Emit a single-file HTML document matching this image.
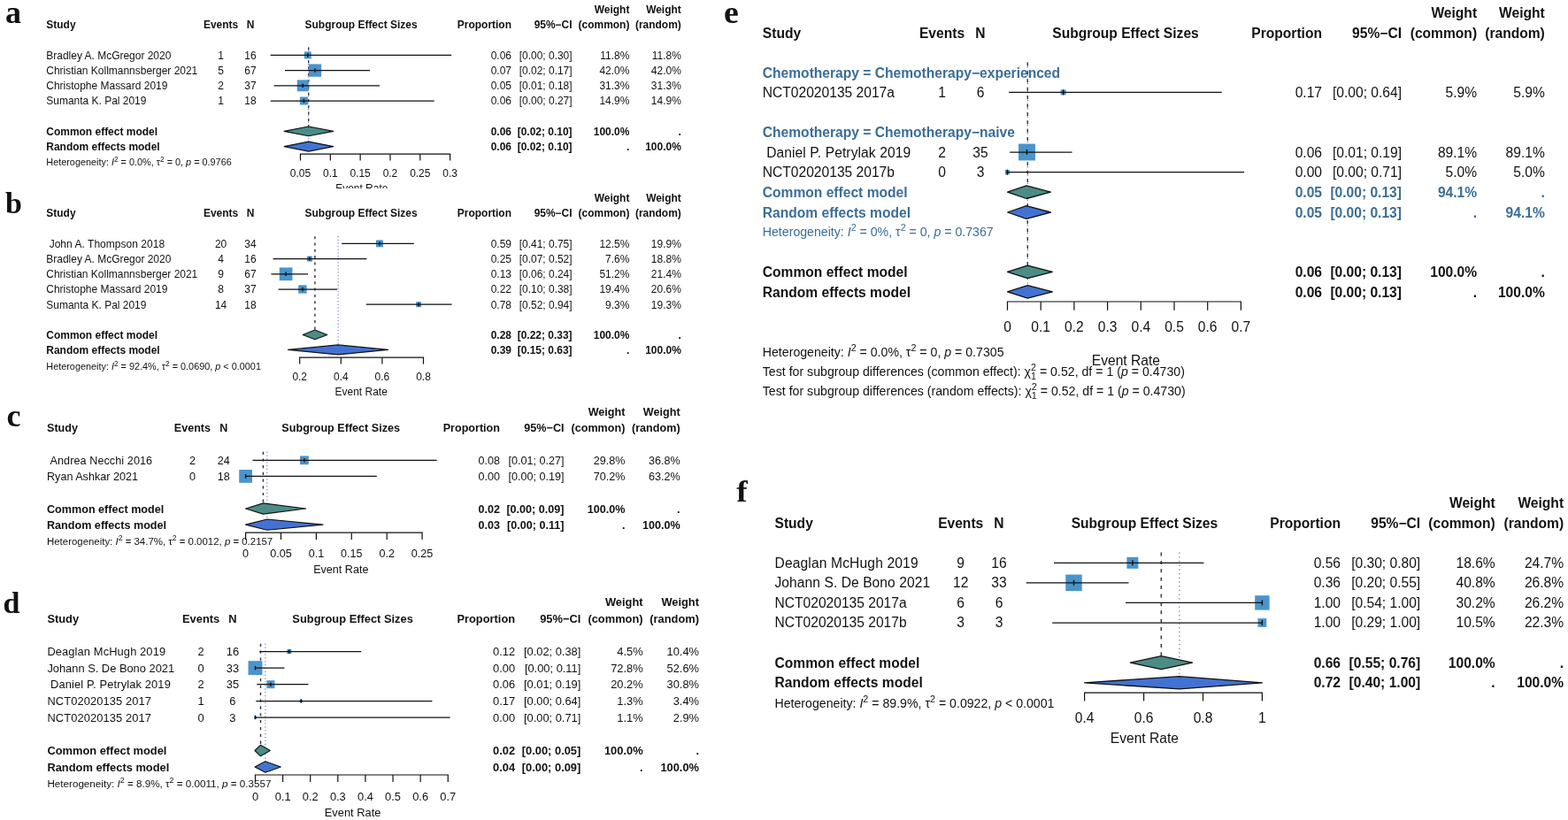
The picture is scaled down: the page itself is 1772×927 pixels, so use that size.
<!DOCTYPE html>
<html><head><meta charset="utf-8"><title>Forest plots</title>
<style>
html,body{margin:0;padding:0;background:#fff;}
svg{display:block;}
</style></head>
<body>
<svg width="1772" height="927" viewBox="0 0 1772 927">
<defs><clipPath id="clipA"><rect x="0" y="0" width="800" height="213"/></clipPath></defs>
<rect x="0" y="0" width="1772" height="927" fill="#fff"/>
<g style="font-family:'Liberation Sans', Arial, Helvetica, sans-serif;fill:#111;">
<g clip-path="url(#clipA)">
<text x="6.00" y="25.80" font-size="36.00" font-weight="bold" style="font-family:'Liberation Serif', 'Times New Roman', serif;">a</text>
<text x="711.40" y="15.00" font-size="11.97" text-anchor="end" font-weight="bold">Weight</text>
<text x="769.80" y="15.00" font-size="11.97" text-anchor="end" font-weight="bold">Weight</text>
<text x="52.30" y="32.40" font-size="11.97" font-weight="bold">Study</text>
<text x="249.60" y="32.40" font-size="11.97" text-anchor="middle" font-weight="bold">Events</text>
<text x="283.00" y="32.40" font-size="11.97" text-anchor="middle" font-weight="bold">N</text>
<text x="408.10" y="32.40" font-size="11.97" text-anchor="middle" font-weight="bold">Subgroup Effect Sizes</text>
<text x="578.00" y="32.40" font-size="11.97" text-anchor="end" font-weight="bold">Proportion</text>
<text x="646.60" y="32.40" font-size="11.97" text-anchor="end" font-weight="bold">95%−CI</text>
<text x="711.40" y="32.40" font-size="11.97" text-anchor="end" font-weight="bold">(common)</text>
<text x="769.80" y="32.40" font-size="11.97" text-anchor="end" font-weight="bold">(random)</text>
<line x1="348.70" y1="53.60" x2="348.70" y2="148.40" stroke="#333" stroke-width="1.4" stroke-dasharray="3 4.3"/>
<line x1="348.70" y1="53.60" x2="348.70" y2="165.60" stroke="#4a4ac4" stroke-width="1.0" stroke-dasharray="1 2.65"/>
<text x="52.30" y="66.60" font-size="11.97">Bradley A. McGregor 2020</text>
<text x="249.60" y="66.60" font-size="11.97" text-anchor="middle">1</text>
<text x="283.00" y="66.60" font-size="11.97" text-anchor="middle">16</text>
<text x="578.00" y="66.60" font-size="11.97" text-anchor="end">0.06</text>
<text x="646.60" y="66.60" font-size="11.97" text-anchor="end">[0.00; 0.30]</text>
<text x="711.40" y="66.60" font-size="11.97" text-anchor="end">11.8%</text>
<text x="769.80" y="66.60" font-size="11.97" text-anchor="end">11.8%</text>
<rect x="343.80" y="58.40" width="8.00" height="8.00" fill="#4a94cc"/>
<line x1="305.70" y1="62.40" x2="510.20" y2="62.40" stroke="#111" stroke-width="1.25"/>
<line x1="347.80" y1="60.15" x2="347.80" y2="64.65" stroke="#111" stroke-width="1.4"/>
<text x="52.30" y="83.80" font-size="11.97">Christian Kollmannsberger 2021</text>
<text x="249.60" y="83.80" font-size="11.97" text-anchor="middle">5</text>
<text x="283.00" y="83.80" font-size="11.97" text-anchor="middle">67</text>
<text x="578.00" y="83.80" font-size="11.97" text-anchor="end">0.07</text>
<text x="646.60" y="83.80" font-size="11.97" text-anchor="end">[0.02; 0.17]</text>
<text x="711.40" y="83.80" font-size="11.97" text-anchor="end">42.0%</text>
<text x="769.80" y="83.80" font-size="11.97" text-anchor="end">42.0%</text>
<rect x="348.85" y="72.45" width="14.30" height="14.30" fill="#4a94cc"/>
<line x1="322.00" y1="79.60" x2="418.00" y2="79.60" stroke="#111" stroke-width="1.25"/>
<line x1="356.00" y1="77.35" x2="356.00" y2="81.85" stroke="#111" stroke-width="1.4"/>
<text x="52.30" y="101.00" font-size="11.97">Christophe Massard 2019</text>
<text x="249.60" y="101.00" font-size="11.97" text-anchor="middle">2</text>
<text x="283.00" y="101.00" font-size="11.97" text-anchor="middle">37</text>
<text x="578.00" y="101.00" font-size="11.97" text-anchor="end">0.05</text>
<text x="646.60" y="101.00" font-size="11.97" text-anchor="end">[0.01; 0.18]</text>
<text x="711.40" y="101.00" font-size="11.97" text-anchor="end">31.3%</text>
<text x="769.80" y="101.00" font-size="11.97" text-anchor="end">31.3%</text>
<rect x="335.75" y="90.35" width="12.90" height="12.90" fill="#4a94cc"/>
<line x1="309.60" y1="96.80" x2="429.00" y2="96.80" stroke="#111" stroke-width="1.25"/>
<line x1="342.20" y1="94.55" x2="342.20" y2="99.05" stroke="#111" stroke-width="1.4"/>
<text x="52.30" y="118.20" font-size="11.97">Sumanta K. Pal 2019</text>
<text x="249.60" y="118.20" font-size="11.97" text-anchor="middle">1</text>
<text x="283.00" y="118.20" font-size="11.97" text-anchor="middle">18</text>
<text x="578.00" y="118.20" font-size="11.97" text-anchor="end">0.06</text>
<text x="646.60" y="118.20" font-size="11.97" text-anchor="end">[0.00; 0.27]</text>
<text x="711.40" y="118.20" font-size="11.97" text-anchor="end">14.9%</text>
<text x="769.80" y="118.20" font-size="11.97" text-anchor="end">14.9%</text>
<rect x="338.90" y="109.50" width="9.00" height="9.00" fill="#4a94cc"/>
<line x1="305.80" y1="114.00" x2="490.70" y2="114.00" stroke="#111" stroke-width="1.25"/>
<line x1="343.40" y1="111.75" x2="343.40" y2="116.25" stroke="#111" stroke-width="1.4"/>
<text x="52.30" y="152.90" font-size="11.97" font-weight="bold">Common effect model</text>
<text x="578.00" y="152.90" font-size="11.97" text-anchor="end" font-weight="bold">0.06</text>
<text x="646.60" y="152.90" font-size="11.97" text-anchor="end" font-weight="bold">[0.02; 0.10]</text>
<text x="711.40" y="152.90" font-size="11.97" text-anchor="end" font-weight="bold">100.0%</text>
<text x="769.80" y="152.90" font-size="11.97" text-anchor="end" font-weight="bold">.</text>
<polygon points="321.10,148.40 348.70,143.00 376.70,148.40 348.70,153.80" fill="#4b8c87" stroke="#111" stroke-width="1.1" stroke-linejoin="round"/>
<text x="52.30" y="170.30" font-size="11.97" font-weight="bold">Random effects model</text>
<text x="578.00" y="170.30" font-size="11.97" text-anchor="end" font-weight="bold">0.06</text>
<text x="646.60" y="170.30" font-size="11.97" text-anchor="end" font-weight="bold">[0.02; 0.10]</text>
<text x="711.40" y="170.30" font-size="11.97" text-anchor="end" font-weight="bold">.</text>
<text x="769.80" y="170.30" font-size="11.97" text-anchor="end" font-weight="bold">100.0%</text>
<polygon points="321.10,165.60 348.70,160.10 376.70,165.60 348.70,171.10" fill="#4373d2" stroke="#111" stroke-width="1.1" stroke-linejoin="round"/>
<text x="52.30" y="186.70" font-size="10.86"><tspan>Heterogeneity: </tspan><tspan font-style="italic">I</tspan><tspan font-size="8.25" baseline-shift="4.34">2</tspan><tspan> = 0.0%, τ</tspan><tspan font-size="8.25" baseline-shift="4.34">2</tspan><tspan> = 0, </tspan><tspan font-style="italic">p</tspan><tspan> = 0.9766</tspan></text>
<line x1="339.50" y1="174.10" x2="508.60" y2="174.10" stroke="#111" stroke-width="1.2" stroke-linecap="square"/>
<line x1="339.50" y1="174.10" x2="339.50" y2="181.50" stroke="#111" stroke-width="1.2"/>
<text x="339.50" y="199.50" font-size="11.97" text-anchor="middle">0.05</text>
<line x1="373.32" y1="174.10" x2="373.32" y2="181.50" stroke="#111" stroke-width="1.2"/>
<text x="373.32" y="199.50" font-size="11.97" text-anchor="middle">0.1</text>
<line x1="407.14" y1="174.10" x2="407.14" y2="181.50" stroke="#111" stroke-width="1.2"/>
<text x="407.14" y="199.50" font-size="11.97" text-anchor="middle">0.15</text>
<line x1="440.96" y1="174.10" x2="440.96" y2="181.50" stroke="#111" stroke-width="1.2"/>
<text x="440.96" y="199.50" font-size="11.97" text-anchor="middle">0.2</text>
<line x1="474.78" y1="174.10" x2="474.78" y2="181.50" stroke="#111" stroke-width="1.2"/>
<text x="474.78" y="199.50" font-size="11.97" text-anchor="middle">0.25</text>
<line x1="508.60" y1="174.10" x2="508.60" y2="181.50" stroke="#111" stroke-width="1.2"/>
<text x="508.60" y="199.50" font-size="11.97" text-anchor="middle">0.3</text>
<text x="408.80" y="217.10" font-size="11.97" text-anchor="middle">Event Rate</text>
</g>
<text x="5.90" y="241.00" font-size="34.00" font-weight="bold" style="font-family:'Liberation Serif', 'Times New Roman', serif;">b</text>
<text x="711.40" y="227.60" font-size="11.97" text-anchor="end" font-weight="bold">Weight</text>
<text x="769.80" y="227.60" font-size="11.97" text-anchor="end" font-weight="bold">Weight</text>
<text x="52.30" y="245.20" font-size="11.97" font-weight="bold">Study</text>
<text x="249.60" y="245.20" font-size="11.97" text-anchor="middle" font-weight="bold">Events</text>
<text x="283.00" y="245.20" font-size="11.97" text-anchor="middle" font-weight="bold">N</text>
<text x="408.10" y="245.20" font-size="11.97" text-anchor="middle" font-weight="bold">Subgroup Effect Sizes</text>
<text x="578.00" y="245.20" font-size="11.97" text-anchor="end" font-weight="bold">Proportion</text>
<text x="646.60" y="245.20" font-size="11.97" text-anchor="end" font-weight="bold">95%−CI</text>
<text x="711.40" y="245.20" font-size="11.97" text-anchor="end" font-weight="bold">(common)</text>
<text x="769.80" y="245.20" font-size="11.97" text-anchor="end" font-weight="bold">(random)</text>
<line x1="355.90" y1="267.20" x2="355.90" y2="378.40" stroke="#333" stroke-width="1.4" stroke-dasharray="3 4.3"/>
<line x1="382.10" y1="267.20" x2="382.10" y2="395.40" stroke="#4a4ac4" stroke-width="1.0" stroke-dasharray="1 2.65"/>
<text x="55.63" y="279.70" font-size="11.97" textLength="130.55" lengthAdjust="spacing">John A. Thompson 2018</text>
<text x="249.60" y="279.70" font-size="11.97" text-anchor="middle">20</text>
<text x="283.00" y="279.70" font-size="11.97" text-anchor="middle">34</text>
<text x="578.00" y="279.70" font-size="11.97" text-anchor="end">0.59</text>
<text x="646.60" y="279.70" font-size="11.97" text-anchor="end">[0.41; 0.75]</text>
<text x="711.40" y="279.70" font-size="11.97" text-anchor="end">12.5%</text>
<text x="769.80" y="279.70" font-size="11.97" text-anchor="end">19.9%</text>
<rect x="425.00" y="271.40" width="8.00" height="8.00" fill="#4a94cc"/>
<line x1="386.20" y1="275.40" x2="467.80" y2="275.40" stroke="#111" stroke-width="1.25"/>
<line x1="429.00" y1="273.15" x2="429.00" y2="277.65" stroke="#111" stroke-width="1.4"/>
<text x="52.30" y="296.90" font-size="11.97">Bradley A. McGregor 2020</text>
<text x="249.60" y="296.90" font-size="11.97" text-anchor="middle">4</text>
<text x="283.00" y="296.90" font-size="11.97" text-anchor="middle">16</text>
<text x="578.00" y="296.90" font-size="11.97" text-anchor="end">0.25</text>
<text x="646.60" y="296.90" font-size="11.97" text-anchor="end">[0.07; 0.52]</text>
<text x="711.40" y="296.90" font-size="11.97" text-anchor="end">7.6%</text>
<text x="769.80" y="296.90" font-size="11.97" text-anchor="end">18.8%</text>
<rect x="346.90" y="289.60" width="6.00" height="6.00" fill="#4a94cc"/>
<line x1="308.50" y1="292.60" x2="414.40" y2="292.60" stroke="#111" stroke-width="1.25"/>
<line x1="349.90" y1="290.35" x2="349.90" y2="294.85" stroke="#111" stroke-width="1.4"/>
<text x="52.30" y="314.10" font-size="11.97">Christian Kollmannsberger 2021</text>
<text x="249.60" y="314.10" font-size="11.97" text-anchor="middle">9</text>
<text x="283.00" y="314.10" font-size="11.97" text-anchor="middle">67</text>
<text x="578.00" y="314.10" font-size="11.97" text-anchor="end">0.13</text>
<text x="646.60" y="314.10" font-size="11.97" text-anchor="end">[0.06; 0.24]</text>
<text x="711.40" y="314.10" font-size="11.97" text-anchor="end">51.2%</text>
<text x="769.80" y="314.10" font-size="11.97" text-anchor="end">21.4%</text>
<rect x="315.75" y="302.45" width="14.70" height="14.70" fill="#4a94cc"/>
<line x1="306.40" y1="309.80" x2="348.00" y2="309.80" stroke="#111" stroke-width="1.25"/>
<line x1="323.10" y1="307.55" x2="323.10" y2="312.05" stroke="#111" stroke-width="1.4"/>
<text x="52.30" y="331.30" font-size="11.97">Christophe Massard 2019</text>
<text x="249.60" y="331.30" font-size="11.97" text-anchor="middle">8</text>
<text x="283.00" y="331.30" font-size="11.97" text-anchor="middle">37</text>
<text x="578.00" y="331.30" font-size="11.97" text-anchor="end">0.22</text>
<text x="646.60" y="331.30" font-size="11.97" text-anchor="end">[0.10; 0.38]</text>
<text x="711.40" y="331.30" font-size="11.97" text-anchor="end">19.4%</text>
<text x="769.80" y="331.30" font-size="11.97" text-anchor="end">20.6%</text>
<rect x="337.20" y="322.30" width="9.40" height="9.40" fill="#4a94cc"/>
<line x1="314.60" y1="327.00" x2="381.20" y2="327.00" stroke="#111" stroke-width="1.25"/>
<line x1="341.90" y1="324.75" x2="341.90" y2="329.25" stroke="#111" stroke-width="1.4"/>
<text x="52.30" y="348.50" font-size="11.97">Sumanta K. Pal 2019</text>
<text x="249.60" y="348.50" font-size="11.97" text-anchor="middle">14</text>
<text x="283.00" y="348.50" font-size="11.97" text-anchor="middle">18</text>
<text x="578.00" y="348.50" font-size="11.97" text-anchor="end">0.78</text>
<text x="646.60" y="348.50" font-size="11.97" text-anchor="end">[0.52; 0.94]</text>
<text x="711.40" y="348.50" font-size="11.97" text-anchor="end">9.3%</text>
<text x="769.80" y="348.50" font-size="11.97" text-anchor="end">19.3%</text>
<rect x="470.10" y="341.20" width="6.00" height="6.00" fill="#4a94cc"/>
<line x1="413.80" y1="344.20" x2="510.60" y2="344.20" stroke="#111" stroke-width="1.25"/>
<line x1="473.10" y1="341.95" x2="473.10" y2="346.45" stroke="#111" stroke-width="1.4"/>
<text x="52.30" y="383.00" font-size="11.97" font-weight="bold">Common effect model</text>
<text x="578.00" y="383.00" font-size="11.97" text-anchor="end" font-weight="bold">0.28</text>
<text x="646.60" y="383.00" font-size="11.97" text-anchor="end" font-weight="bold">[0.22; 0.33]</text>
<text x="711.40" y="383.00" font-size="11.97" text-anchor="end" font-weight="bold">100.0%</text>
<text x="769.80" y="383.00" font-size="11.97" text-anchor="end" font-weight="bold">.</text>
<polygon points="342.20,378.40 355.90,373.00 369.80,378.40 355.90,383.80" fill="#4b8c87" stroke="#111" stroke-width="1.1" stroke-linejoin="round"/>
<text x="52.30" y="400.30" font-size="11.97" font-weight="bold">Random effects model</text>
<text x="578.00" y="400.30" font-size="11.97" text-anchor="end" font-weight="bold">0.39</text>
<text x="646.60" y="400.30" font-size="11.97" text-anchor="end" font-weight="bold">[0.15; 0.63]</text>
<text x="711.40" y="400.30" font-size="11.97" text-anchor="end" font-weight="bold">.</text>
<text x="769.80" y="400.30" font-size="11.97" text-anchor="end" font-weight="bold">100.0%</text>
<polygon points="325.50,395.40 382.10,389.90 438.50,395.40 382.10,400.90" fill="#4373d2" stroke="#111" stroke-width="1.1" stroke-linejoin="round"/>
<text x="52.30" y="417.50" font-size="10.86"><tspan>Heterogeneity: </tspan><tspan font-style="italic">I</tspan><tspan font-size="8.25" baseline-shift="4.34">2</tspan><tspan> = 92.4%, τ</tspan><tspan font-size="8.25" baseline-shift="4.34">2</tspan><tspan> = 0.0690, </tspan><tspan font-style="italic">p</tspan><tspan> &lt; 0.0001</tspan></text>
<line x1="338.70" y1="404.20" x2="478.50" y2="404.20" stroke="#111" stroke-width="1.2" stroke-linecap="square"/>
<line x1="338.70" y1="404.20" x2="338.70" y2="411.60" stroke="#111" stroke-width="1.2"/>
<text x="338.70" y="430.00" font-size="11.97" text-anchor="middle">0.2</text>
<line x1="385.30" y1="404.20" x2="385.30" y2="411.60" stroke="#111" stroke-width="1.2"/>
<text x="385.30" y="430.00" font-size="11.97" text-anchor="middle">0.4</text>
<line x1="431.90" y1="404.20" x2="431.90" y2="411.60" stroke="#111" stroke-width="1.2"/>
<text x="431.90" y="430.00" font-size="11.97" text-anchor="middle">0.6</text>
<line x1="478.50" y1="404.20" x2="478.50" y2="411.60" stroke="#111" stroke-width="1.2"/>
<text x="478.50" y="430.00" font-size="11.97" text-anchor="middle">0.8</text>
<text x="408.20" y="447.30" font-size="11.97" text-anchor="middle">Event Rate</text>
<text x="7.40" y="481.90" font-size="36.00" font-weight="bold" style="font-family:'Liberation Serif', 'Times New Roman', serif;">c</text>
<text x="706.40" y="470.00" font-size="12.60" text-anchor="end" font-weight="bold">Weight</text>
<text x="768.60" y="470.00" font-size="12.60" text-anchor="end" font-weight="bold">Weight</text>
<text x="53.00" y="488.30" font-size="12.60" font-weight="bold">Study</text>
<text x="217.40" y="488.30" font-size="12.60" text-anchor="middle" font-weight="bold">Events</text>
<text x="252.80" y="488.30" font-size="12.60" text-anchor="middle" font-weight="bold">N</text>
<text x="385.20" y="488.30" font-size="12.60" text-anchor="middle" font-weight="bold">Subgroup Effect Sizes</text>
<text x="565.00" y="488.30" font-size="12.60" text-anchor="end" font-weight="bold">Proportion</text>
<text x="637.50" y="488.30" font-size="12.60" text-anchor="end" font-weight="bold">95%−CI</text>
<text x="706.40" y="488.30" font-size="12.60" text-anchor="end" font-weight="bold">(common)</text>
<text x="768.60" y="488.30" font-size="12.60" text-anchor="end" font-weight="bold">(random)</text>
<line x1="297.40" y1="510.70" x2="297.40" y2="575.00" stroke="#333" stroke-width="1.4" stroke-dasharray="3.2 4.5"/>
<line x1="301.90" y1="510.70" x2="301.90" y2="593.10" stroke="#4a4ac4" stroke-width="1.0" stroke-dasharray="1.05 2.8"/>
<text x="56.50" y="524.70" font-size="12.60" textLength="115.58" lengthAdjust="spacing">Andrea Necchi 2016</text>
<text x="217.40" y="524.70" font-size="12.60" text-anchor="middle">2</text>
<text x="252.80" y="524.70" font-size="12.60" text-anchor="middle">24</text>
<text x="565.00" y="524.70" font-size="12.60" text-anchor="end">0.08</text>
<text x="637.50" y="524.70" font-size="12.60" text-anchor="end">[0.01; 0.27]</text>
<text x="706.40" y="524.70" font-size="12.60" text-anchor="end">29.8%</text>
<text x="768.60" y="524.70" font-size="12.60" text-anchor="end">36.8%</text>
<rect x="339.00" y="515.40" width="9.80" height="9.80" fill="#4a94cc"/>
<line x1="285.50" y1="520.30" x2="493.60" y2="520.30" stroke="#111" stroke-width="1.25"/>
<line x1="343.90" y1="518.05" x2="343.90" y2="522.55" stroke="#111" stroke-width="1.4"/>
<text x="53.00" y="542.90" font-size="12.60">Ryan Ashkar 2021</text>
<text x="217.40" y="542.90" font-size="12.60" text-anchor="middle">0</text>
<text x="252.80" y="542.90" font-size="12.60" text-anchor="middle">18</text>
<text x="565.00" y="542.90" font-size="12.60" text-anchor="end">0.00</text>
<text x="637.50" y="542.90" font-size="12.60" text-anchor="end">[0.00; 0.19]</text>
<text x="706.40" y="542.90" font-size="12.60" text-anchor="end">70.2%</text>
<text x="768.60" y="542.90" font-size="12.60" text-anchor="end">63.2%</text>
<rect x="270.20" y="531.00" width="14.80" height="14.80" fill="#4a94cc"/>
<line x1="277.60" y1="538.40" x2="425.80" y2="538.40" stroke="#111" stroke-width="1.25"/>
<line x1="277.60" y1="536.15" x2="277.60" y2="540.65" stroke="#111" stroke-width="1.4"/>
<text x="53.00" y="579.60" font-size="12.60" font-weight="bold">Common effect model</text>
<text x="565.00" y="579.60" font-size="12.60" text-anchor="end" font-weight="bold">0.02</text>
<text x="637.50" y="579.60" font-size="12.60" text-anchor="end" font-weight="bold">[0.00; 0.09]</text>
<text x="706.40" y="579.60" font-size="12.60" text-anchor="end" font-weight="bold">100.0%</text>
<text x="768.60" y="579.60" font-size="12.60" text-anchor="end" font-weight="bold">.</text>
<polygon points="277.60,575.00 297.40,568.90 345.70,575.00 297.40,581.10" fill="#4b8c87" stroke="#111" stroke-width="1.1" stroke-linejoin="round"/>
<text x="53.00" y="597.70" font-size="12.60" font-weight="bold">Random effects model</text>
<text x="565.00" y="597.70" font-size="12.60" text-anchor="end" font-weight="bold">0.03</text>
<text x="637.50" y="597.70" font-size="12.60" text-anchor="end" font-weight="bold">[0.00; 0.11]</text>
<text x="706.40" y="597.70" font-size="12.60" text-anchor="end" font-weight="bold">.</text>
<text x="768.60" y="597.70" font-size="12.60" text-anchor="end" font-weight="bold">100.0%</text>
<polygon points="277.60,593.10 301.90,587.00 365.00,593.10 301.90,599.20" fill="#4373d2" stroke="#111" stroke-width="1.1" stroke-linejoin="round"/>
<text x="53.00" y="616.00" font-size="11.43"><tspan>Heterogeneity: </tspan><tspan font-style="italic">I</tspan><tspan font-size="8.69" baseline-shift="4.57">2</tspan><tspan> = 34.7%, τ</tspan><tspan font-size="8.69" baseline-shift="4.57">2</tspan><tspan> = 0.0012, </tspan><tspan font-style="italic">p</tspan><tspan> = 0.2157</tspan></text>
<line x1="277.60" y1="602.20" x2="477.10" y2="602.20" stroke="#111" stroke-width="1.2" stroke-linecap="square"/>
<line x1="277.60" y1="602.20" x2="277.60" y2="610.00" stroke="#111" stroke-width="1.2"/>
<text x="277.60" y="629.60" font-size="12.60" text-anchor="middle">0</text>
<line x1="317.50" y1="602.20" x2="317.50" y2="610.00" stroke="#111" stroke-width="1.2"/>
<text x="317.50" y="629.60" font-size="12.60" text-anchor="middle">0.05</text>
<line x1="357.40" y1="602.20" x2="357.40" y2="610.00" stroke="#111" stroke-width="1.2"/>
<text x="357.40" y="629.60" font-size="12.60" text-anchor="middle">0.1</text>
<line x1="397.30" y1="602.20" x2="397.30" y2="610.00" stroke="#111" stroke-width="1.2"/>
<text x="397.30" y="629.60" font-size="12.60" text-anchor="middle">0.15</text>
<line x1="437.20" y1="602.20" x2="437.20" y2="610.00" stroke="#111" stroke-width="1.2"/>
<text x="437.20" y="629.60" font-size="12.60" text-anchor="middle">0.2</text>
<line x1="477.10" y1="602.20" x2="477.10" y2="610.00" stroke="#111" stroke-width="1.2"/>
<text x="477.10" y="629.60" font-size="12.60" text-anchor="middle">0.25</text>
<text x="385.30" y="648.10" font-size="12.60" text-anchor="middle">Event Rate</text>
<text x="3.60" y="693.30" font-size="34.00" font-weight="bold" style="font-family:'Liberation Serif', 'Times New Roman', serif;">d</text>
<text x="726.60" y="685.40" font-size="12.87" text-anchor="end" font-weight="bold">Weight</text>
<text x="790.00" y="685.40" font-size="12.87" text-anchor="end" font-weight="bold">Weight</text>
<text x="53.40" y="704.00" font-size="12.87" font-weight="bold">Study</text>
<text x="227.10" y="704.00" font-size="12.87" text-anchor="middle" font-weight="bold">Events</text>
<text x="262.90" y="704.00" font-size="12.87" text-anchor="middle" font-weight="bold">N</text>
<text x="398.60" y="704.00" font-size="12.87" text-anchor="middle" font-weight="bold">Subgroup Effect Sizes</text>
<text x="582.10" y="704.00" font-size="12.87" text-anchor="end" font-weight="bold">Proportion</text>
<text x="656.30" y="704.00" font-size="12.87" text-anchor="end" font-weight="bold">95%−CI</text>
<text x="726.60" y="704.00" font-size="12.87" text-anchor="end" font-weight="bold">(common)</text>
<text x="790.00" y="704.00" font-size="12.87" text-anchor="end" font-weight="bold">(random)</text>
<line x1="294.50" y1="727.70" x2="294.50" y2="848.50" stroke="#333" stroke-width="1.4" stroke-dasharray="3.3 4.55"/>
<line x1="299.90" y1="727.70" x2="299.90" y2="867.00" stroke="#4a4ac4" stroke-width="1.0" stroke-dasharray="1.1 2.8"/>
<text x="53.40" y="741.20" font-size="12.87" textLength="133.65" lengthAdjust="spacing">Deaglan McHugh 2019</text>
<text x="227.10" y="741.20" font-size="12.87" text-anchor="middle">2</text>
<text x="262.90" y="741.20" font-size="12.87" text-anchor="middle">16</text>
<text x="582.10" y="741.20" font-size="12.87" text-anchor="end">0.12</text>
<text x="656.30" y="741.20" font-size="12.87" text-anchor="end">[0.02; 0.38]</text>
<text x="726.60" y="741.20" font-size="12.87" text-anchor="end">4.5%</text>
<text x="790.00" y="741.20" font-size="12.87" text-anchor="end">10.4%</text>
<rect x="324.30" y="734.10" width="5.00" height="5.00" fill="#4a94cc"/>
<line x1="293.30" y1="736.60" x2="408.20" y2="736.60" stroke="#111" stroke-width="1.25"/>
<line x1="326.80" y1="734.35" x2="326.80" y2="738.85" stroke="#111" stroke-width="1.4"/>
<text x="53.40" y="759.80" font-size="12.87">Johann S. De Bono 2021</text>
<text x="227.10" y="759.80" font-size="12.87" text-anchor="middle">0</text>
<text x="262.90" y="759.80" font-size="12.87" text-anchor="middle">33</text>
<text x="582.10" y="759.80" font-size="12.87" text-anchor="end">0.00</text>
<text x="656.30" y="759.80" font-size="12.87" text-anchor="end">[0.00; 0.11]</text>
<text x="726.60" y="759.80" font-size="12.87" text-anchor="end">72.8%</text>
<text x="790.00" y="759.80" font-size="12.87" text-anchor="end">52.6%</text>
<rect x="280.55" y="747.15" width="15.90" height="15.90" fill="#4a94cc"/>
<line x1="288.50" y1="755.10" x2="321.50" y2="755.10" stroke="#111" stroke-width="1.25"/>
<line x1="288.50" y1="752.85" x2="288.50" y2="757.35" stroke="#111" stroke-width="1.4"/>
<text x="56.98" y="778.40" font-size="12.87" textLength="135.84" lengthAdjust="spacing">Daniel P. Petrylak 2019</text>
<text x="227.10" y="778.40" font-size="12.87" text-anchor="middle">2</text>
<text x="262.90" y="778.40" font-size="12.87" text-anchor="middle">35</text>
<text x="582.10" y="778.40" font-size="12.87" text-anchor="end">0.06</text>
<text x="656.30" y="778.40" font-size="12.87" text-anchor="end">[0.01; 0.19]</text>
<text x="726.60" y="778.40" font-size="12.87" text-anchor="end">20.2%</text>
<text x="790.00" y="778.40" font-size="12.87" text-anchor="end">30.8%</text>
<rect x="301.40" y="769.20" width="9.00" height="9.00" fill="#4a94cc"/>
<line x1="290.30" y1="773.70" x2="348.40" y2="773.70" stroke="#111" stroke-width="1.25"/>
<line x1="305.90" y1="771.45" x2="305.90" y2="775.95" stroke="#111" stroke-width="1.4"/>
<text x="53.40" y="797.00" font-size="12.87" textLength="117.42" lengthAdjust="spacing">NCT02020135 2017</text>
<text x="227.10" y="797.00" font-size="12.87" text-anchor="middle">1</text>
<text x="262.90" y="797.00" font-size="12.87" text-anchor="middle">6</text>
<text x="582.10" y="797.00" font-size="12.87" text-anchor="end">0.17</text>
<text x="656.30" y="797.00" font-size="12.87" text-anchor="end">[0.00; 0.64]</text>
<text x="726.60" y="797.00" font-size="12.87" text-anchor="end">1.3%</text>
<text x="790.00" y="797.00" font-size="12.87" text-anchor="end">3.4%</text>
<rect x="338.80" y="791.00" width="3.00" height="3.00" fill="#4a94cc"/>
<line x1="289.40" y1="792.50" x2="488.40" y2="792.50" stroke="#111" stroke-width="1.25"/>
<line x1="340.30" y1="790.25" x2="340.30" y2="794.75" stroke="#111" stroke-width="1.4"/>
<text x="53.40" y="815.60" font-size="12.87" textLength="117.42" lengthAdjust="spacing">NCT02020135 2017</text>
<text x="227.10" y="815.60" font-size="12.87" text-anchor="middle">0</text>
<text x="262.90" y="815.60" font-size="12.87" text-anchor="middle">3</text>
<text x="582.10" y="815.60" font-size="12.87" text-anchor="end">0.00</text>
<text x="656.30" y="815.60" font-size="12.87" text-anchor="end">[0.00; 0.71]</text>
<text x="726.60" y="815.60" font-size="12.87" text-anchor="end">1.1%</text>
<text x="790.00" y="815.60" font-size="12.87" text-anchor="end">2.9%</text>
<rect x="287.00" y="809.50" width="3.00" height="3.00" fill="#4a94cc"/>
<line x1="288.50" y1="811.00" x2="508.70" y2="811.00" stroke="#111" stroke-width="1.25"/>
<line x1="288.50" y1="808.75" x2="288.50" y2="813.25" stroke="#111" stroke-width="1.4"/>
<text x="53.40" y="853.00" font-size="12.87" font-weight="bold">Common effect model</text>
<text x="582.10" y="853.00" font-size="12.87" text-anchor="end" font-weight="bold">0.02</text>
<text x="656.30" y="853.00" font-size="12.87" text-anchor="end" font-weight="bold">[0.00; 0.05]</text>
<text x="726.60" y="853.00" font-size="12.87" text-anchor="end" font-weight="bold">100.0%</text>
<text x="790.00" y="853.00" font-size="12.87" text-anchor="end" font-weight="bold">.</text>
<polygon points="288.00,848.50 294.50,842.20 305.30,848.50 294.50,854.80" fill="#4b8c87" stroke="#111" stroke-width="1.1" stroke-linejoin="round"/>
<text x="53.40" y="871.70" font-size="12.87" font-weight="bold">Random effects model</text>
<text x="582.10" y="871.70" font-size="12.87" text-anchor="end" font-weight="bold">0.04</text>
<text x="656.30" y="871.70" font-size="12.87" text-anchor="end" font-weight="bold">[0.00; 0.09]</text>
<text x="726.60" y="871.70" font-size="12.87" text-anchor="end" font-weight="bold">.</text>
<text x="790.00" y="871.70" font-size="12.87" text-anchor="end" font-weight="bold">100.0%</text>
<polygon points="288.00,867.00 299.90,860.70 317.30,867.00 299.90,873.30" fill="#4373d2" stroke="#111" stroke-width="1.1" stroke-linejoin="round"/>
<text x="53.40" y="890.40" font-size="11.67"><tspan>Heterogeneity: </tspan><tspan font-style="italic">I</tspan><tspan font-size="8.87" baseline-shift="4.67">2</tspan><tspan> = 8.9%, τ</tspan><tspan font-size="8.87" baseline-shift="4.67">2</tspan><tspan> = 0.0011, </tspan><tspan font-style="italic">p</tspan><tspan> = 0.3557</tspan></text>
<line x1="288.50" y1="876.00" x2="506.27" y2="876.00" stroke="#111" stroke-width="1.2" stroke-linecap="square"/>
<line x1="288.50" y1="876.00" x2="288.50" y2="884.00" stroke="#111" stroke-width="1.2"/>
<text x="288.50" y="904.50" font-size="12.87" text-anchor="middle">0</text>
<line x1="319.61" y1="876.00" x2="319.61" y2="884.00" stroke="#111" stroke-width="1.2"/>
<text x="319.61" y="904.50" font-size="12.87" text-anchor="middle">0.1</text>
<line x1="350.72" y1="876.00" x2="350.72" y2="884.00" stroke="#111" stroke-width="1.2"/>
<text x="350.72" y="904.50" font-size="12.87" text-anchor="middle">0.2</text>
<line x1="381.83" y1="876.00" x2="381.83" y2="884.00" stroke="#111" stroke-width="1.2"/>
<text x="381.83" y="904.50" font-size="12.87" text-anchor="middle">0.3</text>
<line x1="412.94" y1="876.00" x2="412.94" y2="884.00" stroke="#111" stroke-width="1.2"/>
<text x="412.94" y="904.50" font-size="12.87" text-anchor="middle">0.4</text>
<line x1="444.05" y1="876.00" x2="444.05" y2="884.00" stroke="#111" stroke-width="1.2"/>
<text x="444.05" y="904.50" font-size="12.87" text-anchor="middle">0.5</text>
<line x1="475.16" y1="876.00" x2="475.16" y2="884.00" stroke="#111" stroke-width="1.2"/>
<text x="475.16" y="904.50" font-size="12.87" text-anchor="middle">0.6</text>
<line x1="506.27" y1="876.00" x2="506.27" y2="884.00" stroke="#111" stroke-width="1.2"/>
<text x="506.27" y="904.50" font-size="12.87" text-anchor="middle">0.7</text>
<text x="398.60" y="923.00" font-size="12.87" text-anchor="middle">Event Rate</text>
<text x="0.00" y="0.00" font-size="36.00" font-weight="bold" style="font-family:'Liberation Serif', 'Times New Roman', serif;" transform="translate(817.90,25.80) scale(1.05,1)">e</text>
<text x="1669.10" y="19.90" font-size="15.60" text-anchor="end" font-weight="bold">Weight</text>
<text x="1745.80" y="19.90" font-size="15.60" text-anchor="end" font-weight="bold">Weight</text>
<text x="861.80" y="42.50" font-size="15.60" font-weight="bold">Study</text>
<text x="1064.50" y="42.50" font-size="15.60" text-anchor="middle" font-weight="bold">Events</text>
<text x="1108.00" y="42.50" font-size="15.60" text-anchor="middle" font-weight="bold">N</text>
<text x="1272.00" y="42.50" font-size="15.60" text-anchor="middle" font-weight="bold">Subgroup Effect Sizes</text>
<text x="1494.00" y="42.50" font-size="15.60" text-anchor="end" font-weight="bold">Proportion</text>
<text x="1584.00" y="42.50" font-size="15.60" text-anchor="end" font-weight="bold">95%−CI</text>
<text x="1669.10" y="42.50" font-size="15.60" text-anchor="end" font-weight="bold">(common)</text>
<text x="1745.80" y="42.50" font-size="15.60" text-anchor="end" font-weight="bold">(random)</text>
<line x1="1161.30" y1="70.50" x2="1161.30" y2="307.30" stroke="#333" stroke-width="1.4" stroke-dasharray="4.0 5.4"/>
<line x1="1161.30" y1="70.50" x2="1161.30" y2="329.70" stroke="#4a4ac4" stroke-width="1.0" stroke-dasharray="1.3 3.4"/>
<text x="861.80" y="87.50" font-size="15.60" font-weight="bold" style="fill:#3a6d96;">Chemotherapy = Chemotherapy−experienced</text>
<text x="861.80" y="110.00" font-size="15.60">NCT02020135 2017a</text>
<text x="1064.50" y="110.00" font-size="15.60" text-anchor="middle">1</text>
<text x="1108.00" y="110.00" font-size="15.60" text-anchor="middle">6</text>
<text x="1494.00" y="110.00" font-size="15.60" text-anchor="end">0.17</text>
<text x="1584.00" y="110.00" font-size="15.60" text-anchor="end">[0.00; 0.64]</text>
<text x="1669.10" y="110.00" font-size="15.60" text-anchor="end">5.9%</text>
<text x="1745.80" y="110.00" font-size="15.60" text-anchor="end">5.9%</text>
<rect x="1198.60" y="101.40" width="6.00" height="6.00" fill="#4a94cc"/>
<line x1="1140.10" y1="104.40" x2="1380.70" y2="104.40" stroke="#111" stroke-width="1.25"/>
<line x1="1201.60" y1="101.40" x2="1201.60" y2="107.40" stroke="#111" stroke-width="1.4"/>
<text x="861.80" y="155.20" font-size="15.60" font-weight="bold" style="fill:#3a6d96;">Chemotherapy = Chemotherapy−naive</text>
<text x="866.14" y="177.80" font-size="15.60" textLength="163.01" lengthAdjust="spacing">Daniel P. Petrylak 2019</text>
<text x="1064.50" y="177.80" font-size="15.60" text-anchor="middle">2</text>
<text x="1108.00" y="177.80" font-size="15.60" text-anchor="middle">35</text>
<text x="1494.00" y="177.80" font-size="15.60" text-anchor="end">0.06</text>
<text x="1584.00" y="177.80" font-size="15.60" text-anchor="end">[0.01; 0.19]</text>
<text x="1669.10" y="177.80" font-size="15.60" text-anchor="end">89.1%</text>
<text x="1745.80" y="177.80" font-size="15.60" text-anchor="end">89.1%</text>
<rect x="1151.05" y="162.55" width="18.90" height="18.90" fill="#4a94cc"/>
<line x1="1141.20" y1="172.00" x2="1211.50" y2="172.00" stroke="#111" stroke-width="1.25"/>
<line x1="1160.50" y1="169.00" x2="1160.50" y2="175.00" stroke="#111" stroke-width="1.4"/>
<text x="861.80" y="200.30" font-size="15.60">NCT02020135 2017b</text>
<text x="1064.50" y="200.30" font-size="15.60" text-anchor="middle">0</text>
<text x="1108.00" y="200.30" font-size="15.60" text-anchor="middle">3</text>
<text x="1494.00" y="200.30" font-size="15.60" text-anchor="end">0.00</text>
<text x="1584.00" y="200.30" font-size="15.60" text-anchor="end">[0.00; 0.71]</text>
<text x="1669.10" y="200.30" font-size="15.60" text-anchor="end">5.0%</text>
<text x="1745.80" y="200.30" font-size="15.60" text-anchor="end">5.0%</text>
<rect x="1135.80" y="192.10" width="5.20" height="5.20" fill="#4a94cc"/>
<line x1="1137.20" y1="194.70" x2="1406.10" y2="194.70" stroke="#111" stroke-width="1.25"/>
<line x1="1138.40" y1="191.70" x2="1138.40" y2="197.70" stroke="#111" stroke-width="1.4"/>
<text x="861.80" y="222.90" font-size="15.60" font-weight="bold" style="fill:#3a6d96;">Common effect model</text>
<text x="1494.00" y="222.90" font-size="15.60" text-anchor="end" font-weight="bold" style="fill:#3a6d96;">0.05</text>
<text x="1584.00" y="222.90" font-size="15.60" text-anchor="end" font-weight="bold" style="fill:#3a6d96;">[0.00; 0.13]</text>
<text x="1669.10" y="222.90" font-size="15.60" text-anchor="end" font-weight="bold" style="fill:#3a6d96;">94.1%</text>
<text x="1745.80" y="222.90" font-size="15.60" text-anchor="end" font-weight="bold" style="fill:#3a6d96;">.</text>
<polygon points="1138.60,217.20 1160.00,209.90 1187.30,217.20 1160.00,224.50" fill="#4b8c87" stroke="#111" stroke-width="1.3" stroke-linejoin="round"/>
<text x="861.80" y="245.50" font-size="15.60" font-weight="bold" style="fill:#3a6d96;">Random effects model</text>
<text x="1494.00" y="245.50" font-size="15.60" text-anchor="end" font-weight="bold" style="fill:#3a6d96;">0.05</text>
<text x="1584.00" y="245.50" font-size="15.60" text-anchor="end" font-weight="bold" style="fill:#3a6d96;">[0.00; 0.13]</text>
<text x="1669.10" y="245.50" font-size="15.60" text-anchor="end" font-weight="bold" style="fill:#3a6d96;">.</text>
<text x="1745.80" y="245.50" font-size="15.60" text-anchor="end" font-weight="bold" style="fill:#3a6d96;">94.1%</text>
<polygon points="1138.60,240.00 1160.00,232.70 1187.30,240.00 1160.00,247.30" fill="#4373d2" stroke="#111" stroke-width="1.3" stroke-linejoin="round"/>
<text x="861.80" y="267.00" font-size="14.15" style="fill:#3a6d96;"><tspan>Heterogeneity: </tspan><tspan font-style="italic">I</tspan><tspan font-size="10.75" baseline-shift="5.66">2</tspan><tspan> = 0%, τ</tspan><tspan font-size="10.75" baseline-shift="5.66">2</tspan><tspan> = 0, </tspan><tspan font-style="italic">p</tspan><tspan> = 0.7367</tspan></text>
<text x="861.80" y="313.10" font-size="15.60" font-weight="bold">Common effect model</text>
<text x="1494.00" y="313.10" font-size="15.60" text-anchor="end" font-weight="bold">0.06</text>
<text x="1584.00" y="313.10" font-size="15.60" text-anchor="end" font-weight="bold">[0.00; 0.13]</text>
<text x="1669.10" y="313.10" font-size="15.60" text-anchor="end" font-weight="bold">100.0%</text>
<text x="1745.80" y="313.10" font-size="15.60" text-anchor="end" font-weight="bold">.</text>
<polygon points="1138.50,307.40 1161.30,300.10 1189.30,307.40 1161.30,314.70" fill="#4b8c87" stroke="#111" stroke-width="1.3" stroke-linejoin="round"/>
<text x="861.80" y="335.70" font-size="15.60" font-weight="bold">Random effects model</text>
<text x="1494.00" y="335.70" font-size="15.60" text-anchor="end" font-weight="bold">0.06</text>
<text x="1584.00" y="335.70" font-size="15.60" text-anchor="end" font-weight="bold">[0.00; 0.13]</text>
<text x="1669.10" y="335.70" font-size="15.60" text-anchor="end" font-weight="bold">.</text>
<text x="1745.80" y="335.70" font-size="15.60" text-anchor="end" font-weight="bold">100.0%</text>
<polygon points="1138.50,329.90 1161.30,322.60 1189.30,329.90 1161.30,337.20" fill="#4373d2" stroke="#111" stroke-width="1.3" stroke-linejoin="round"/>
<text x="861.80" y="403.20" font-size="14.15"><tspan>Heterogeneity: </tspan><tspan font-style="italic">I</tspan><tspan font-size="10.75" baseline-shift="5.66">2</tspan><tspan> = 0.0%, τ</tspan><tspan font-size="10.75" baseline-shift="5.66">2</tspan><tspan> = 0, </tspan><tspan font-style="italic">p</tspan><tspan> = 0.7305</tspan></text>
<text x="861.80" y="425.10" font-size="14.15"><tspan>Test for subgroup differences (common effect): χ</tspan><tspan font-size="10.75" baseline-shift="5.94">2</tspan><tspan font-size="10.75" dx="-5.98" baseline-shift="-4.24">1</tspan><tspan> = 0.52, df = 1 (</tspan><tspan font-style="italic">p</tspan><tspan> = 0.4730)</tspan></text>
<text x="861.80" y="447.40" font-size="14.15"><tspan>Test for subgroup differences (random effects): χ</tspan><tspan font-size="10.75" baseline-shift="5.94">2</tspan><tspan font-size="10.75" dx="-5.98" baseline-shift="-4.24">1</tspan><tspan> = 0.52, df = 1 (</tspan><tspan font-style="italic">p</tspan><tspan> = 0.4730)</tspan></text>
<line x1="1138.50" y1="341.00" x2="1402.40" y2="341.00" stroke="#111" stroke-width="1.2" stroke-linecap="square"/>
<line x1="1138.50" y1="341.00" x2="1138.50" y2="350.80" stroke="#111" stroke-width="1.2"/>
<text x="1138.50" y="375.00" font-size="15.60" text-anchor="middle">0</text>
<line x1="1176.20" y1="341.00" x2="1176.20" y2="350.80" stroke="#111" stroke-width="1.2"/>
<text x="1176.20" y="375.00" font-size="15.60" text-anchor="middle">0.1</text>
<line x1="1213.90" y1="341.00" x2="1213.90" y2="350.80" stroke="#111" stroke-width="1.2"/>
<text x="1213.90" y="375.00" font-size="15.60" text-anchor="middle">0.2</text>
<line x1="1251.60" y1="341.00" x2="1251.60" y2="350.80" stroke="#111" stroke-width="1.2"/>
<text x="1251.60" y="375.00" font-size="15.60" text-anchor="middle">0.3</text>
<line x1="1289.30" y1="341.00" x2="1289.30" y2="350.80" stroke="#111" stroke-width="1.2"/>
<text x="1289.30" y="375.00" font-size="15.60" text-anchor="middle">0.4</text>
<line x1="1327.00" y1="341.00" x2="1327.00" y2="350.80" stroke="#111" stroke-width="1.2"/>
<text x="1327.00" y="375.00" font-size="15.60" text-anchor="middle">0.5</text>
<line x1="1364.70" y1="341.00" x2="1364.70" y2="350.80" stroke="#111" stroke-width="1.2"/>
<text x="1364.70" y="375.00" font-size="15.60" text-anchor="middle">0.6</text>
<line x1="1402.40" y1="341.00" x2="1402.40" y2="350.80" stroke="#111" stroke-width="1.2"/>
<text x="1402.40" y="375.00" font-size="15.60" text-anchor="middle">0.7</text>
<text x="1272.40" y="412.70" font-size="15.60" text-anchor="middle">Event Rate</text>
<text x="0.00" y="0.00" font-size="34.50" font-weight="bold" style="font-family:'Liberation Serif', 'Times New Roman', serif;" transform="translate(832.30,566.60) scale(1.08,1)">f</text>
<text x="1689.70" y="573.90" font-size="15.60" text-anchor="end" font-weight="bold">Weight</text>
<text x="1767.10" y="573.90" font-size="15.60" text-anchor="end" font-weight="bold">Weight</text>
<text x="875.50" y="597.20" font-size="15.60" font-weight="bold">Study</text>
<text x="1085.70" y="597.20" font-size="15.60" text-anchor="middle" font-weight="bold">Events</text>
<text x="1129.00" y="597.20" font-size="15.60" text-anchor="middle" font-weight="bold">N</text>
<text x="1293.40" y="597.20" font-size="15.60" text-anchor="middle" font-weight="bold">Subgroup Effect Sizes</text>
<text x="1515.00" y="597.20" font-size="15.60" text-anchor="end" font-weight="bold">Proportion</text>
<text x="1605.20" y="597.20" font-size="15.60" text-anchor="end" font-weight="bold">95%−CI</text>
<text x="1689.70" y="597.20" font-size="15.60" text-anchor="end" font-weight="bold">(common)</text>
<text x="1767.10" y="597.20" font-size="15.60" text-anchor="end" font-weight="bold">(random)</text>
<line x1="1312.30" y1="624.50" x2="1312.30" y2="748.60" stroke="#333" stroke-width="1.4" stroke-dasharray="4.0 5.4"/>
<line x1="1332.90" y1="624.50" x2="1332.90" y2="771.80" stroke="#4a4ac4" stroke-width="1.0" stroke-dasharray="1.3 3.4"/>
<text x="875.50" y="641.90" font-size="15.60" textLength="162.07" lengthAdjust="spacing">Deaglan McHugh 2019</text>
<text x="1085.70" y="641.90" font-size="15.60" text-anchor="middle">9</text>
<text x="1129.00" y="641.90" font-size="15.60" text-anchor="middle">16</text>
<text x="1515.00" y="641.90" font-size="15.60" text-anchor="end">0.56</text>
<text x="1605.20" y="641.90" font-size="15.60" text-anchor="end">[0.30; 0.80]</text>
<text x="1689.70" y="641.90" font-size="15.60" text-anchor="end">18.6%</text>
<text x="1767.10" y="641.90" font-size="15.60" text-anchor="end">24.7%</text>
<rect x="1273.40" y="629.80" width="13.00" height="13.00" fill="#4a94cc"/>
<line x1="1191.00" y1="636.30" x2="1360.40" y2="636.30" stroke="#111" stroke-width="1.25"/>
<line x1="1279.90" y1="633.30" x2="1279.90" y2="639.30" stroke="#111" stroke-width="1.4"/>
<text x="875.50" y="664.40" font-size="15.60" textLength="175.64" lengthAdjust="spacing">Johann S. De Bono 2021</text>
<text x="1085.70" y="664.40" font-size="15.60" text-anchor="middle">12</text>
<text x="1129.00" y="664.40" font-size="15.60" text-anchor="middle">33</text>
<text x="1515.00" y="664.40" font-size="15.60" text-anchor="end">0.36</text>
<text x="1605.20" y="664.40" font-size="15.60" text-anchor="end">[0.20; 0.55]</text>
<text x="1689.70" y="664.40" font-size="15.60" text-anchor="end">40.8%</text>
<text x="1767.10" y="664.40" font-size="15.60" text-anchor="end">26.8%</text>
<rect x="1204.25" y="649.55" width="18.50" height="18.50" fill="#4a94cc"/>
<line x1="1159.60" y1="658.80" x2="1275.50" y2="658.80" stroke="#111" stroke-width="1.25"/>
<line x1="1213.50" y1="655.80" x2="1213.50" y2="661.80" stroke="#111" stroke-width="1.4"/>
<text x="875.50" y="686.90" font-size="15.60">NCT02020135 2017a</text>
<text x="1085.70" y="686.90" font-size="15.60" text-anchor="middle">6</text>
<text x="1129.00" y="686.90" font-size="15.60" text-anchor="middle">6</text>
<text x="1515.00" y="686.90" font-size="15.60" text-anchor="end">1.00</text>
<text x="1605.20" y="686.90" font-size="15.60" text-anchor="end">[0.54; 1.00]</text>
<text x="1689.70" y="686.90" font-size="15.60" text-anchor="end">30.2%</text>
<text x="1767.10" y="686.90" font-size="15.60" text-anchor="end">26.2%</text>
<rect x="1418.20" y="673.20" width="16.40" height="16.40" fill="#4a94cc"/>
<line x1="1272.00" y1="681.40" x2="1426.40" y2="681.40" stroke="#111" stroke-width="1.25"/>
<line x1="1426.40" y1="678.40" x2="1426.40" y2="684.40" stroke="#111" stroke-width="1.4"/>
<text x="875.50" y="709.40" font-size="15.60">NCT02020135 2017b</text>
<text x="1085.70" y="709.40" font-size="15.60" text-anchor="middle">3</text>
<text x="1129.00" y="709.40" font-size="15.60" text-anchor="middle">3</text>
<text x="1515.00" y="709.40" font-size="15.60" text-anchor="end">1.00</text>
<text x="1605.20" y="709.40" font-size="15.60" text-anchor="end">[0.29; 1.00]</text>
<text x="1689.70" y="709.40" font-size="15.60" text-anchor="end">10.5%</text>
<text x="1767.10" y="709.40" font-size="15.60" text-anchor="end">22.3%</text>
<rect x="1421.50" y="699.10" width="9.80" height="9.80" fill="#4a94cc"/>
<line x1="1189.20" y1="704.00" x2="1426.40" y2="704.00" stroke="#111" stroke-width="1.25"/>
<line x1="1426.40" y1="701.00" x2="1426.40" y2="707.00" stroke="#111" stroke-width="1.4"/>
<text x="875.50" y="754.50" font-size="15.60" font-weight="bold">Common effect model</text>
<text x="1515.00" y="754.50" font-size="15.60" text-anchor="end" font-weight="bold">0.66</text>
<text x="1605.20" y="754.50" font-size="15.60" text-anchor="end" font-weight="bold">[0.55; 0.76]</text>
<text x="1689.70" y="754.50" font-size="15.60" text-anchor="end" font-weight="bold">100.0%</text>
<text x="1767.10" y="754.50" font-size="15.60" text-anchor="end" font-weight="bold">.</text>
<polygon points="1277.30,749.20 1312.30,741.70 1347.60,749.20 1312.30,756.70" fill="#4b8c87" stroke="#111" stroke-width="1.3" stroke-linejoin="round"/>
<text x="875.50" y="777.40" font-size="15.60" font-weight="bold">Random effects model</text>
<text x="1515.00" y="777.40" font-size="15.60" text-anchor="end" font-weight="bold">0.72</text>
<text x="1605.20" y="777.40" font-size="15.60" text-anchor="end" font-weight="bold">[0.40; 1.00]</text>
<text x="1689.70" y="777.40" font-size="15.60" text-anchor="end" font-weight="bold">.</text>
<text x="1767.10" y="777.40" font-size="15.60" text-anchor="end" font-weight="bold">100.0%</text>
<polygon points="1225.60,771.80 1332.90,764.70 1426.40,771.80 1332.90,778.90" fill="#4373d2" stroke="#111" stroke-width="1.3" stroke-linejoin="round"/>
<text x="875.50" y="800.00" font-size="14.15"><tspan>Heterogeneity: </tspan><tspan font-style="italic">I</tspan><tspan font-size="10.75" baseline-shift="5.66">2</tspan><tspan> = 89.9%, τ</tspan><tspan font-size="10.75" baseline-shift="5.66">2</tspan><tspan> = 0.0922, </tspan><tspan font-style="italic">p</tspan><tspan> &lt; 0.0001</tspan></text>
<line x1="1225.60" y1="783.20" x2="1426.40" y2="783.20" stroke="#111" stroke-width="1.2" stroke-linecap="square"/>
<line x1="1225.60" y1="783.20" x2="1225.60" y2="792.50" stroke="#111" stroke-width="1.2"/>
<text x="1225.60" y="817.20" font-size="15.60" text-anchor="middle">0.4</text>
<line x1="1292.60" y1="783.20" x2="1292.60" y2="792.50" stroke="#111" stroke-width="1.2"/>
<text x="1292.60" y="817.20" font-size="15.60" text-anchor="middle">0.6</text>
<line x1="1359.50" y1="783.20" x2="1359.50" y2="792.50" stroke="#111" stroke-width="1.2"/>
<text x="1359.50" y="817.20" font-size="15.60" text-anchor="middle">0.8</text>
<line x1="1426.40" y1="783.20" x2="1426.40" y2="792.50" stroke="#111" stroke-width="1.2"/>
<text x="1426.40" y="817.20" font-size="15.60" text-anchor="middle">1</text>
<text x="1293.40" y="839.50" font-size="15.60" text-anchor="middle">Event Rate</text>
</g>
</svg>
</body></html>
